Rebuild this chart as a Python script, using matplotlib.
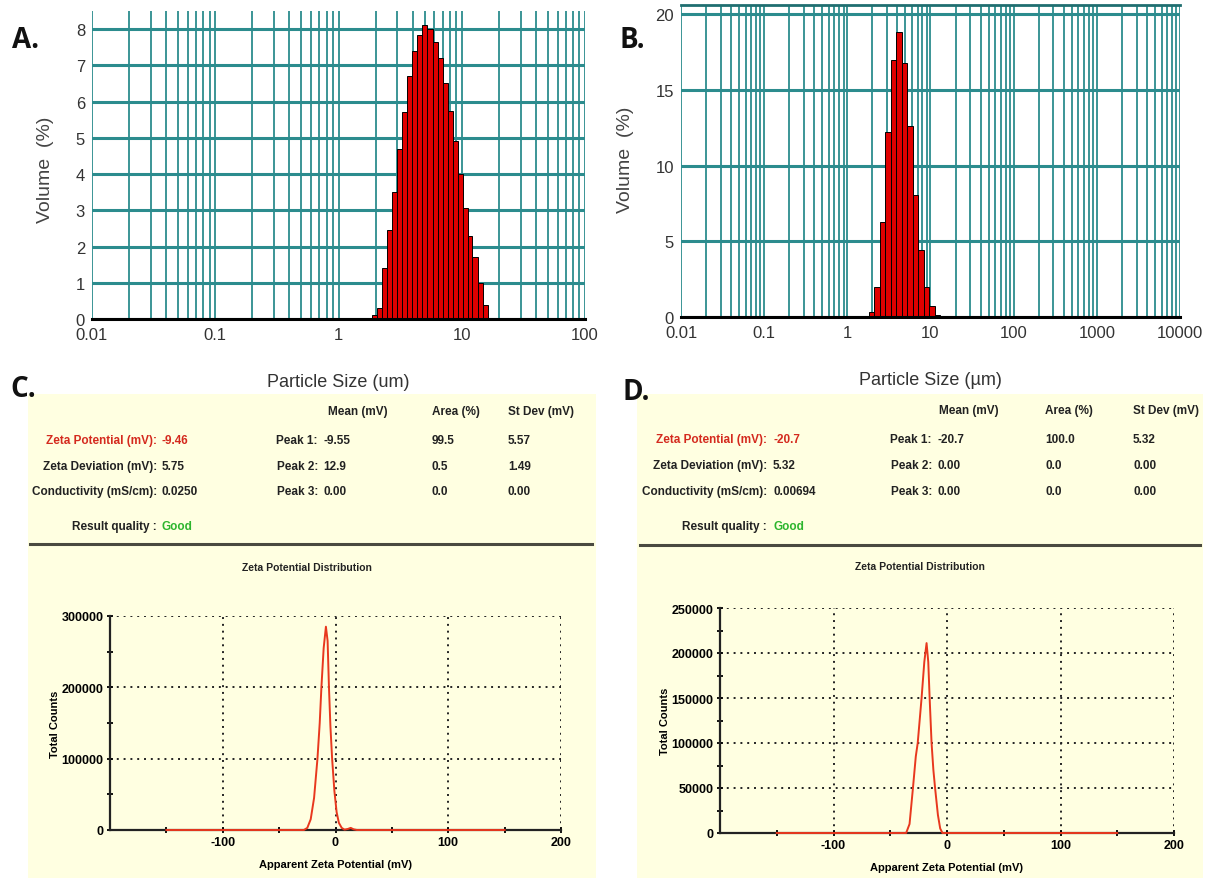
import numpy as np
import matplotlib
matplotlib.use("Agg")
import matplotlib.pyplot as plt
from matplotlib.ticker import LogLocator, NullFormatter, FixedLocator, MultipleLocator
from matplotlib.patches import Rectangle
from matplotlib.lines import Line2D

W, H = 1205, 879
plt.rcParams['font.family'] = ['Liberation Sans Narrow', 'Liberation Sans', 'DejaVu Sans']
plt.rcParams['axes.unicode_minus'] = False

# ---- particle size distributions (bin lower edges in um, volume %) ----
a_edges = [1.88, 2.07, 2.27, 2.49, 2.74, 3.00, 3.30, 3.62, 3.98, 4.37, 4.80, 5.27,
           5.79, 6.36, 6.98, 7.67, 8.42, 9.24, 10.2, 11.2, 12.2, 13.5, 14.8]
a_last = 16.2
a_volume = [0.1, 0.3, 1.4, 2.45, 3.5, 4.7, 5.7, 6.7, 7.4, 7.85, 8.1, 8.0,
            7.65, 7.2, 6.5, 5.75, 4.9, 4.0, 3.05, 2.3, 1.7, 1.0, 0.4]

b_edges = [1.80, 2.10, 2.44, 2.85, 3.32, 3.86, 4.50, 5.24, 6.11, 7.11, 8.29, 9.65, 11.25]
b_last = 13.1
b_volume = [0.3, 2.0, 6.3, 12.2, 17.0, 18.8, 16.8, 12.6, 8.05, 4.4, 2.0, 0.75, 0.15]

# ---- zeta potential distributions ----
c_mv = [-150, -28, -25, -22, -19, -16, -14, -12.5, -10.5, -8.5, -7, -5.8, -4.5, -3,
        -1, 1, 3, 5.5, 8, 11, 13.5, 16, 19, 150]
c_counts = [0, 0, 3000, 15000, 45000, 100000, 150000, 200000, 255000, 285000, 265000,
            200000, 145000, 100000, 55000, 25000, 10000, 3000, 500, 1500, 3000, 1000, 0, 0]

d_mv = [-150, -36, -33, -30, -27.5, -25.8, -22.4, -20, -18, -16.5, -15.3, -13.6,
        -12, -10.5, -8, -6, -4, 150]
d_counts = [0, 0, 10000, 50000, 85000, 100000, 150000, 190000, 211000, 190000,
            150000, 100000, 70000, 50000, 20000, 5000, 0, 0]

# ---- result tables ----
summary_labels = ['Zeta Potential (mV):', 'Zeta Deviation (mV):',
                  'Conductivity (mS/cm):', 'Result quality :']
peak_labels = ['Peak 1:', 'Peak 2:', 'Peak 3:']
col_headers = ['Mean (mV)', 'Area (%)', 'St Dev (mV)']

c_summary = ['-9.46', '5.75', '0.0250', 'Good']
c_mean = ['-9.55', '12.9', '0.00']
c_area = ['99.5', '0.5', '0.0']
c_sd = ['5.57', '1.49', '0.00']

d_summary = ['-20.7', '5.32', '0.00694', 'Good']
d_mean = ['-20.7', '0.00', '0.00']
d_area = ['100.0', '0.0', '0.0']
d_sd = ['5.32', '0.00', '0.00']

TEAL = '#2C8C8E'
YELLOW = '#FFFFE1'
RED_TXT = '#D42A1E'
GREEN_TXT = '#2DB52D'
INK = '#222222'


def px_rect(x0, ytop, x1, ybot):
    return [x0 / W, 1 - ybot / H, (x1 - x0) / W, (ybot - ytop) / H]


def ftext(x, y, s, **kw):
    fig.text(x / W, 1 - y / H, s, **kw)


def size_panel(rect, edges, last, vol, xmax, ymax, yticks, xlabel, top_line=False):
    ax = fig.add_axes(rect)
    e = np.append(edges, last)
    ax.bar(e[:-1], vol, width=np.diff(e), align='edge', color='#E00000',
           edgecolor='black', linewidth=0.7, zorder=3)
    ax.set_xscale('log')
    ax.set_xlim(0.01, xmax)
    ax.set_ylim(0, ymax)
    decades = range(-2, int(round(np.log10(xmax))) + 1)
    ax.xaxis.set_minor_locator(LogLocator(base=10, subs=np.arange(2, 10), numticks=20))
    ax.xaxis.set_minor_formatter(NullFormatter())
    ax.set_xticks([10.0 ** k for k in decades])
    ax.set_xticklabels(['%g' % (10.0 ** k) for k in decades])
    ax.set_yticks(yticks)
    ax.grid(True, which='major', axis='x', color=TEAL, lw=1.3, zorder=1)
    ax.grid(True, which='minor', axis='x', color=TEAL, lw=1.3, zorder=1)
    ax.grid(True, which='major', axis='y', color=TEAL, lw=2.2, zorder=1)
    ax.tick_params(axis='x', which='both', length=0, labelsize=12, colors='#333333', pad=6)
    ax.tick_params(axis='y', which='both', length=0, labelsize=12, colors='#333333', pad=5)
    for s in ['left', 'right', 'top']:
        ax.spines[s].set_visible(False)
    if top_line:
        ax.spines['top'].set_visible(True)
        ax.spines['top'].set_color('#1F6E70')
        ax.spines['top'].set_linewidth(2)
    ax.spines['bottom'].set_color('black')
    ax.spines['bottom'].set_linewidth(2.2)
    ax.spines['bottom'].set_zorder(4)
    ax.set_xlabel(xlabel, fontsize=13, color='#333333', labelpad=22)
    return ax


def zeta_panel(rect, mv, counts, ymax, ystep, yminor):
    ax = fig.add_axes(rect)
    ax.set_facecolor('none')
    ax.plot(mv, counts, color='#E8381E', lw=1.4, zorder=5, clip_on=False)
    ax.set_xlim(-200, 200)
    ax.set_ylim(0, ymax)
    ax.xaxis.set_major_locator(FixedLocator([-100, 0, 100, 200]))
    ax.xaxis.set_minor_locator(FixedLocator([-150, -50, 50, 150]))
    ax.yaxis.set_major_locator(MultipleLocator(ystep))
    ax.yaxis.set_minor_locator(MultipleLocator(yminor))
    ax.grid(True, which='major', color=INK, ls=(0, (1, 2.5)), lw=1.4)
    ax.tick_params(which='both', direction='inout', length=5, width=1.3,
                   labelsize=9, pad=2)
    for lab in ax.get_xticklabels() + ax.get_yticklabels():
        lab.set_fontweight('bold')
    for s in ['right', 'top']:
        ax.spines[s].set_visible(False)
    for s in ['left', 'bottom']:
        ax.spines[s].set_linewidth(1.6)
        ax.spines[s].set_color(INK)
        ax.spines[s].set_zorder(4)
    ax.set_xlabel('Apparent Zeta Potential (mV)', fontsize=8, fontweight='bold',
                  labelpad=8)
    ax.set_ylabel('Total Counts', fontsize=8, fontweight='bold', labelpad=1)
    return ax


def result_table(cols, rows_y, header_y, summary, mean, area, sd):
    lab_r, val_l, peak_r, mean_l, area_l, sd_l, hdr = cols
    kw = dict(fontsize=8.5, fontweight='bold', va='center')
    for x, h in zip(hdr, col_headers):
        ftext(x, header_y, h, ha='left', color=INK, **kw)
    for i, y in enumerate(rows_y):
        c = RED_TXT if i == 0 else INK
        ftext(lab_r, y, summary_labels[i], ha='right', color=c, **kw)
        vc = RED_TXT if i == 0 else (INK if i < 3 else GREEN_TXT)
        ftext(val_l, y, summary[i], ha='left', color=vc, **kw)
        if i < 3:
            ftext(peak_r, y, peak_labels[i], ha='right', color=INK, **kw)
            ftext(mean_l, y, mean[i], ha='left', color=INK, **kw)
            ftext(area_l, y, area[i], ha='left', color=INK, **kw)
            ftext(sd_l, y, sd[i], ha='left', color=INK, **kw)


fig = plt.figure(figsize=(W / 100, H / 100), dpi=100)
fig.patch.set_facecolor('white')

# yellow report backgrounds
for x0, x1 in [(28, 596), (637, 1203)]:
    fig.patches.append(Rectangle((x0 / W, 0), (x1 - x0) / W, 1 - 395 / H,
                                 transform=fig.transFigure, facecolor=YELLOW,
                                 edgecolor='none', zorder=-10))
for x0, x1, y in [(30, 592, 545), (640, 1200, 546)]:
    fig.lines.append(Line2D([x0 / W, x1 / W], [1 - y / H, 1 - y / H],
                            transform=fig.transFigure, color='#4A4A40', lw=2.2,
                            zorder=-5))

# A and B
size_panel(px_rect(92, 12, 585, 320), a_edges, a_last, a_volume, 100, 8.5,
           range(0, 9), 'Particle Size (um)')
size_panel(px_rect(681, 6, 1180, 318), b_edges, b_last, b_volume, 10000, 20.6,
           [0, 5, 10, 15, 20], 'Particle Size (\u00b5m)', top_line=True)
ftext(45, 170, 'Volume  (%)', rotation=90, ha='center', va='center', fontsize=14,
      color='#444444', family=['Liberation Sans', 'DejaVu Sans'])
ftext(625, 160, 'Volume  (%)', rotation=90, ha='center', va='center', fontsize=14,
      color='#444444', family=['Liberation Sans', 'DejaVu Sans'])

# C and D tables
result_table((157, 162, 318, 323, 432, 508, (328, 432, 508)),
             [441, 467, 492, 527], 412, c_summary, c_mean, c_area, c_sd)
result_table((767, 773, 932, 938, 1045, 1133, (939, 1045, 1133)),
             [440, 466, 492, 527], 411, d_summary, d_mean, d_area, d_sd)

# C and D charts
ftext(307, 568, 'Zeta Potential Distribution', ha='center', va='center',
      fontsize=7.5, fontweight='bold', color=INK)
ftext(920, 567, 'Zeta Potential Distribution', ha='center', va='center',
      fontsize=7.5, fontweight='bold', color=INK)
zeta_panel(px_rect(110, 617, 561, 831), c_mv, c_counts, 300000, 100000, 50000)
zeta_panel(px_rect(720, 609, 1174, 834), d_mv, d_counts, 250000, 50000, 25000)

# panel letters
for x, y, s in [(12, 40, 'A.'), (620, 40, 'B.'), (10, 390, 'C.'), (622, 392, 'D.')]:
    ftext(x, y, s, ha='left', va='center', fontsize=20, fontweight='bold',
          family=['Open Sans', 'DejaVu Sans'], color='#111111')

fig.savefig('out.png', dpi=100)
